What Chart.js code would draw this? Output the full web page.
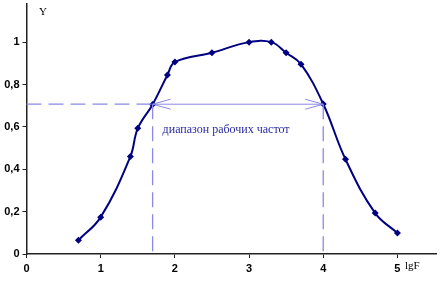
<!DOCTYPE html>
<html>
<head>
<meta charset="utf-8">
<script src="https://cdn.jsdelivr.net/npm/chart.js@4.4.0/dist/chart.umd.min.js"></script>
<style>
  html, body { margin: 0; padding: 0; background: #fff; }
  #wrap { width: 440px; height: 282px; }
</style>
</head>
<body>
<div id="wrap"><canvas id="chart" width="440" height="282"></canvas></div>
<script>
// === データ ===
const lgF = [0.7, 1.0, 1.4, 1.5, 1.7, 1.9, 2.0, 2.5, 3.0, 3.3, 3.5, 3.7, 4.0, 4.3, 4.7, 5.0];
const yValues = [0.065, 0.174, 0.46, 0.593, 0.706, 0.845, 0.906, 0.95, 1.0, 1.0, 0.95, 0.896, 0.708, 0.447, 0.193, 0.099];
const xTicks = [0, 1, 2, 3, 4, 5];
const yTicks = [0, 0.2, 0.4, 0.6, 0.8, 1];
const bandLow = 1.7, bandHigh = 4.0, bandLevel = 0.707;
const bandLabel = 'диапазон рабочих частот';

const points = lgF.map((x, i) => ({ x: x, y: yValues[i] }));
const fmt = (v) => String(Math.round(v * 10) / 10).replace('.', ',');

// === 帯域の破線・矢印・ラベル ===
const bandPlugin = {
  id: 'band',
  afterDatasetsDraw(chart) {
    const { ctx, scales: { x, y } } = chart;
    const x0 = x.getPixelForValue(0), xl = x.getPixelForValue(bandLow), xh = x.getPixelForValue(bandHigh);
    const yl = y.getPixelForValue(bandLevel), yb = y.getPixelForValue(0);
    ctx.save();
    ctx.strokeStyle = '#8a8ae6';
    ctx.lineWidth = 1.3;
    ctx.setLineDash([15, 7]);
    ctx.beginPath();
    ctx.moveTo(x0, yl); ctx.lineTo(xl, yl);
    ctx.moveTo(xl, yl); ctx.lineTo(xl, yb);
    ctx.moveTo(xh, yl); ctx.lineTo(xh, yb);
    ctx.stroke();
    ctx.setLineDash([]);
    ctx.lineWidth = 1;
    ctx.beginPath();
    ctx.moveTo(xl, yl); ctx.lineTo(xh, yl);
    ctx.moveTo(xl + 18, yl - 5); ctx.lineTo(xl, yl); ctx.lineTo(xl + 18, yl + 5);
    ctx.moveTo(xh - 18, yl - 5); ctx.lineTo(xh, yl); ctx.lineTo(xh - 18, yl + 5);
    ctx.stroke();
    ctx.fillStyle = '#2a2aa0';
    ctx.font = '12px "Liberation Serif", serif';
    ctx.textBaseline = 'middle';
    ctx.fillText(bandLabel, xl + 10, yl + 26);
    // 軸ラベル
    ctx.fillStyle = '#000';
    ctx.font = '11px "Liberation Serif", serif';
    ctx.fillText('Y', 39, 12);
    ctx.fillText('lgF', 405, 266);
    ctx.restore();
  }
};

new Chart(document.getElementById('chart'), {
  type: 'scatter',
  data: {
    datasets: [{
      data: points,
      showLine: true,
      tension: 0.4,
      borderColor: '#000080',
      borderWidth: 2,
      backgroundColor: '#000080',
      pointStyle: 'rectRot',
      pointRadius: 3.5,
      pointBorderWidth: 0
    }]
  },
  options: {
    responsive: false,
    animation: false,
    layout: { padding: 0 },
    plugins: { legend: { display: false }, tooltip: { enabled: false } },
    scales: {
      x: {
        type: 'linear', min: 0, max: 5.52,
        afterBuildTicks: (axis) => { axis.ticks = xTicks.map(v => ({ value: v })); },
        afterFit: (axis) => { axis.height = 28; axis.paddingLeft = 0; axis.paddingRight = 0; },
        border: { color: '#222', width: 1.5 },
        grid: { drawOnChartArea: false, tickLength: 4, color: '#222' },
        ticks: { color: '#000', padding: 4, font: { family: '"Liberation Sans", Arial', size: 11, weight: 'bold' }, callback: fmt }
      },
      y: {
        type: 'linear', min: 0, max: 1.18,
        afterBuildTicks: (axis) => { axis.ticks = yTicks.map(v => ({ value: v })); },
        afterFit: (axis) => { axis.width = 26.5; axis.paddingTop = 0; axis.paddingBottom = 0; },
        border: { color: '#222', width: 1.5 },
        grid: { drawOnChartArea: false, tickLength: 4, color: '#222' },
        ticks: { color: '#000', padding: 3, font: { family: '"Liberation Sans", Arial', size: 11, weight: 'bold' }, callback: fmt }
      }
    }
  },
  plugins: [bandPlugin]
});
</script>
</body>
</html>
